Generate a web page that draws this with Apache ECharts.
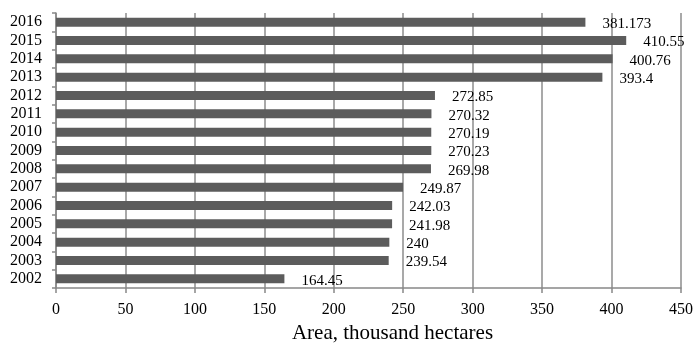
<!DOCTYPE html>
<html><head><meta charset="utf-8">
<script src="https://cdn.jsdelivr.net/npm/echarts@6/dist/echarts.min.js"></script>
<style>html,body{margin:0;padding:0;background:#fff}#c{width:696px;height:343px}</style>
</head><body><div id="c"></div>
<script>
const years = ['2002','2003','2004','2005','2006','2007','2008','2009','2010','2011','2012','2013','2014','2015','2016'];
const areas = [164.45,239.54,240,241.98,242.03,249.87,269.98,270.23,270.19,270.32,272.85,393.4,400.76,410.55,381.173];
const xTicks = [0,50,100,150,200,250,300,350,400,450];
const axisTitle = 'Area, thousand hectares';

const font = '"Liberation Serif","Times New Roman",serif';
const chart = echarts.init(document.getElementById('c'));
chart.setOption({
  animation:false,
  grid:{left:56,right:15,top:13,bottom:55,containLabel:false,outerBoundsMode:'none'},
  xAxis:{type:'value',min:xTicks[0],max:xTicks[xTicks.length-1],interval:50,
    name:axisTitle,nameLocation:'middle',nameGap:34,
    nameTextStyle:{fontFamily:font,fontSize:21,color:'#000',padding:[0,0,0,48]},
    axisLine:{show:true,lineStyle:{color:'#888',width:1.5}},
    axisTick:{show:true,length:5,lineStyle:{color:'#888',width:1.5}},
    axisLabel:{fontFamily:font,fontSize:16,color:'#000',margin:14},
    splitLine:{show:true,lineStyle:{color:'#8c8c8c',width:1.5}}},
  yAxis:{type:'category',data:years,
    axisLine:{show:true,lineStyle:{color:'#888',width:1.5}},
    axisTick:{show:true,length:4,lineStyle:{color:'#888',width:1.5}},
    axisLabel:{fontFamily:font,fontSize:16,color:'#000',margin:14,interval:0}},
  series:[{type:'bar',data:areas,barWidth:9,
    itemStyle:{color:'#5c5c5c'},
    label:{show:true,position:'right',distance:17,offset:[0,2],
      fontFamily:font,fontSize:15,color:'#000',
      formatter:p=>String(p.value)}}]
});
</script></body></html>
